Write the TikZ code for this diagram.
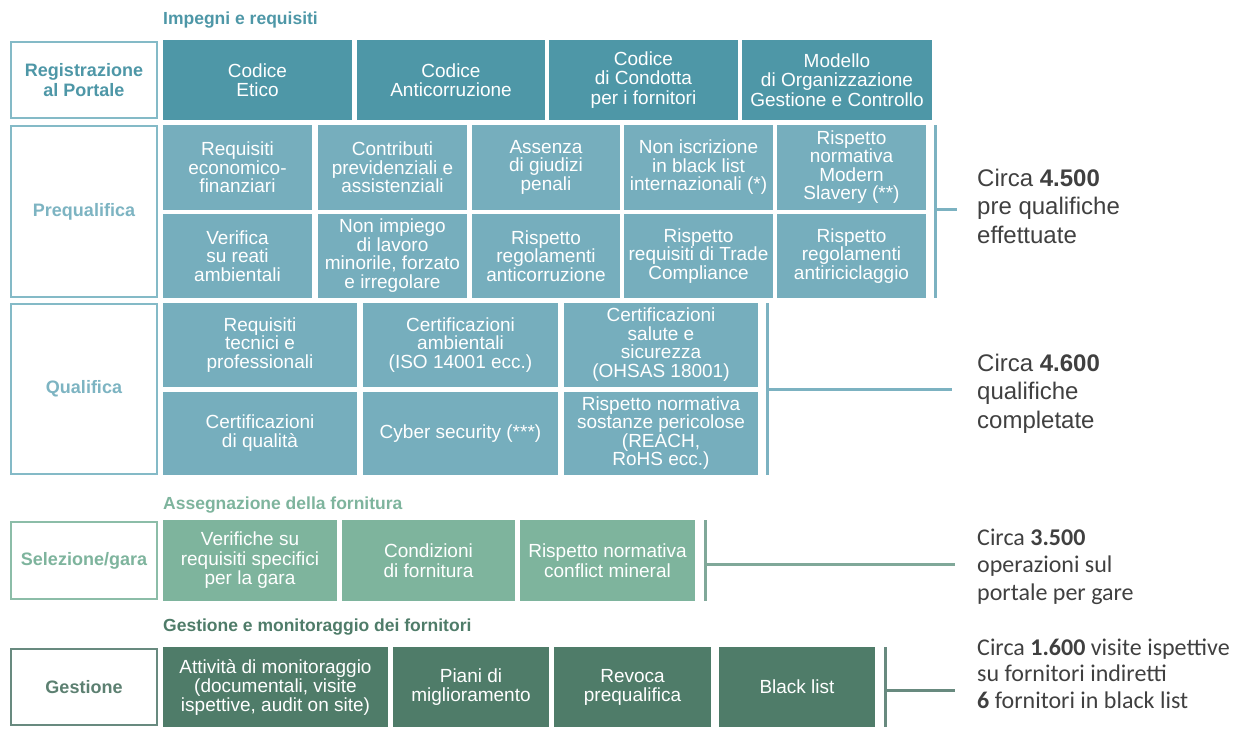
\documentclass[tikz,border=0pt]{standalone}
\usepackage{fontspec}
\setmainfont{Liberation Sans}
\newfontfamily\calibrifont{Carlito}
\usetikzlibrary{positioning}

\definecolor{topteal}{RGB}{78,151,167}
\definecolor{midteal}{RGB}{118,174,189}
\definecolor{labteal}{RGB}{125,180,194}
\definecolor{edgeteal}{RGB}{132,186,199}
\definecolor{barteal}{RGB}{124,178,193}
\definecolor{selgreen}{RGB}{126,180,157}
\definecolor{seledge}{RGB}{140,189,168}
\definecolor{selbar}{RGB}{128,168,153}
\definecolor{gestgreen}{RGB}{79,124,105}
\definecolor{gestlab}{RGB}{92,128,113}
\definecolor{gestbar}{RGB}{104,138,127}
\definecolor{notegray}{RGB}{64,64,64}

\tikzstyle{stage} = [draw, fill=white, line width=2.2pt, inner sep=0pt, minimum width=145.8pt, align=center, font=\fontsize{18}{20}\selectfont\bfseries]
\tikzstyle{cell} = [inner sep=0pt, outer sep=0pt, align=center, text=white, font=\fontsize{19}{19.5}\selectfont]
\tikzstyle{topcell} = [cell, fill=topteal, minimum height=80pt]
\tikzstyle{midcell} = [cell, fill=midteal, font=\fontsize{19}{18.5}\selectfont]
\tikzstyle{selcell} = [cell, fill=selgreen, minimum height=81pt]
\tikzstyle{gestcell} = [cell, fill=gestgreen, minimum height=80pt, font=\fontsize{19}{19}\selectfont]
\tikzstyle{heading} = [inner sep=0pt, anchor=base west, font=\fontsize{17.5}{20}\selectfont\bfseries]
\tikzstyle{note} = [inner sep=0pt, anchor=north west, align=left, text=notegray, font=\fontsize{24}{28.5}\selectfont]
\tikzstyle{bar} = [line width=3pt]

\begin{document}
\begin{tikzpicture}[x=1pt, y=-1pt, node distance=5pt]
\useasboundingbox (0,0) rectangle (1243,729);

% impegni e requisiti
\node[topcell, minimum width=189pt] (etico) at (257.5,80) {Codice\\Etico};
\node[topcell, minimum width=188pt, right=of etico] (anticorr) {Codice\\Anticorruzione};
\node[topcell, minimum width=189pt, right=4pt of anticorr] (condotta) {Codice\\di Condotta\\per i fornitori};
\node[topcell, minimum width=190pt, right=4pt of condotta] (modello) {Modello\\di Organizzazione\\Gestione e Controllo};
\node[stage, draw=edgeteal, text=topteal, minimum height=75.8pt] (registr) at (84,80) {Registrazione\\al Portale};
\node[heading, text=topteal] (impegni) at ([yshift=15.5pt]etico.north west) {Impegni e requisiti};

% prequalifica
\node[midcell, minimum width=149pt, minimum height=84.5pt] (reqeco) at (237.5,167.25) {Requisiti\\economico-\\finanziari};
\node[midcell, minimum width=149pt, minimum height=84.5pt, right=6pt of reqeco] (contrib) {Contributi\\previdenziali e\\assistenziali};
\node[midcell, minimum width=148pt, minimum height=84.5pt, right=of contrib] (giudizi) {Assenza\\di giudizi\\penali};
\node[midcell, minimum width=149pt, minimum height=84.5pt, right=4pt of giudizi] (blklist) {Non iscrizione\\in black list\\internazionali (*)};
\node[midcell, minimum width=149pt, minimum height=84.5pt, right=4pt of blklist] (slavery) {Rispetto\\normativa\\Modern\\Slavery (**)};
\node[midcell, minimum width=149pt, minimum height=84.5pt, below=4pt of reqeco] (reati) {Verifica\\su reati\\ambientali};
\node[midcell, minimum width=149pt, minimum height=84.5pt, below=4pt of contrib] (lavoro) {Non impiego\\di lavoro\\minorile, forzato\\e irregolare};
\node[midcell, minimum width=148pt, minimum height=84.5pt, below=4pt of giudizi] (anticorr2) {Rispetto\\regolamenti\\anticorruzione};
\node[midcell, minimum width=149pt, minimum height=84.5pt, below=4pt of blklist] (trade) {Rispetto\\requisiti di Trade\\Compliance};
\node[midcell, minimum width=149pt, minimum height=84.5pt, below=4pt of slavery] (antiric) {Rispetto\\regolamenti\\antiriciclaggio};
\node[stage, draw=edgeteal, text=labteal, minimum height=170.8pt] (prequal) at (84,211.5) {Prequalifica};

% qualifica
\node[midcell, minimum width=194pt, minimum height=83.5pt] (tecnici) at (260,344.75) {Requisiti\\tecnici e\\professionali};
\node[midcell, minimum width=195pt, minimum height=83.5pt, right=6pt of tecnici] (iso) {Certificazioni\\ambientali\\(ISO 14001 ecc.)};
\node[midcell, minimum width=194pt, minimum height=83.5pt, right=6pt of iso] (ohsas) {Certificazioni\\salute e\\sicurezza\\(OHSAS 18001)};
\node[midcell, minimum width=194pt, minimum height=83.5pt, below=of tecnici] (qualita) {Certificazioni\\di qualità};
\node[midcell, minimum width=195pt, minimum height=83.5pt, below=of iso] (cyber) {Cyber security (***)};
\node[midcell, minimum width=194pt, minimum height=83.5pt, below=of ohsas] (reach) {Rispetto normativa\\sostanze pericolose\\(REACH,\\RoHS ecc.)};
\node[stage, draw=edgeteal, text=labteal, minimum height=169.8pt] (qual) at (84,389) {Qualifica};

% assegnazione della fornitura
\node[selcell, minimum width=174pt] (specifici) at (250,560.5) {Verifiche su\\requisiti specifici\\per la gara};
\node[selcell, minimum width=173pt, right=of specifici] (condiz) {Condizioni\\di fornitura};
\node[selcell, minimum width=175pt, right=of condiz] (conflict) {Rispetto normativa\\conflict mineral};
\node[stage, draw=seledge, text=selgreen, minimum height=76.8pt] (selez) at (84,560.5) {Selezione/gara};
\node[heading, text=selgreen] (assegn) at ([yshift=10.5pt]specifici.north west) {Assegnazione della fornitura};

% gestione e monitoraggio
\node[gestcell, minimum width=225pt] (monitor) at (275.5,687) {Attività di monitoraggio\\(documentali, visite\\ispettive, audit on site)};
\node[gestcell, minimum width=156pt, right=of monitor] (piani) {Piani di\\miglioramento};
\node[gestcell, minimum width=157pt, right=of piani] (revoca) {Revoca\\prequalifica};
\node[gestcell, minimum width=156pt, right=8pt of revoca] (blacklist) {Black list};
\node[stage, draw=gestbar, text=gestlab, minimum height=75.8pt] (gest) at (84,687) {Gestione};
\node[heading, text=gestgreen] (monitoraggio) at ([yshift=16pt]monitor.north west) {Gestione e monitoraggio dei fornitori};

% numeri
\node[note] (preqnote) at (977,168.5) {Circa \textbf{4.500}\\pre qualifiche\\effettuate};
\node[note] (qualnote) at (977,353.5) {Circa \textbf{4.600}\\qualifiche\\completate};
\node[note, font=\calibrifont\fontsize{24}{27.5}\selectfont] (selnote) at (977,528.5) {Circa \textbf{3.500}\\operazioni sul\\portale per gare};
\node[note, font=\calibrifont\fontsize{24}{26.5}\selectfont] (gestnote) at (977,638.5) {Circa \textbf{1.600} visite ispettive\\su fornitori indiretti\\\textbf{6} fornitori in black list};

\coordinate (preqtick) at ([xshift=31pt]slavery.south east);
\coordinate (qualtick) at ([xshift=194pt,yshift=-2.5pt]ohsas.south east);
\coordinate (seltick) at ([xshift=260pt,yshift=-3.5pt]conflict.east);
\coordinate (gesttick) at ([xshift=80pt,yshift=-3pt]blacklist.east);

\draw[bar, barteal] ([xshift=9pt]slavery.north east) -- ([xshift=9pt]antiric.south east);
\draw[bar, barteal] ([xshift=9pt]slavery.south east) -- (preqtick);
\draw[bar, barteal] ([xshift=9pt]ohsas.north east) -- ([xshift=9pt]reach.south east);
\draw[bar, barteal] ([xshift=9pt,yshift=-2.5pt]ohsas.south east) -- (qualtick);
\draw[bar, selbar] ([xshift=10pt]conflict.north east) -- ([xshift=10pt]conflict.south east);
\draw[bar, selbar] ([xshift=10pt,yshift=-3.5pt]conflict.east) -- (seltick);
\draw[bar, gestbar] ([xshift=10pt]blacklist.north east) -- ([xshift=10pt]blacklist.south east);
\draw[bar, gestbar] ([xshift=10pt,yshift=-3pt]blacklist.east) -- (gesttick);
\end{tikzpicture}
\end{document}
